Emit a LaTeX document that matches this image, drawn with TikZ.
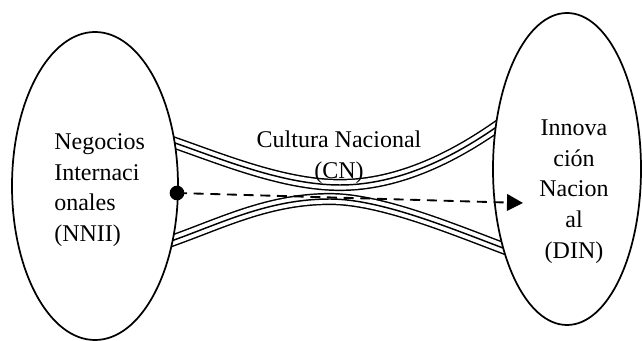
\documentclass[tikz,border=0pt]{standalone}
\usepackage{fontspec}
\setmainfont{Liberation Serif}
\usetikzlibrary{shapes.geometric,arrows.meta}
\tikzset{
  lbl/.style={inner sep=0pt, font=\fontsize{18}{22.9}\selectfont},
  oval/.style={ellipse, draw, fill=white, line width=1.3pt, inner sep=0pt},
  bandout/.style={line width=9.1pt, black},
  bandin/.style={line width=6.9pt, white},
  bandmid/.style={line width=1.1pt, black},
  flow/.style={dashed, dash pattern=on 7.5pt off 5pt, line width=1.4pt, -{Triangle[length=12pt,width=12.5pt]}},
  dotnode/.style={circle, fill=black, inner sep=0pt, minimum size=11pt}
}
\begin{document}
\begin{tikzpicture}[x=0.75pt,y=-0.75pt]
\useasboundingbox (0,0) rectangle (642,341);
% bands
\def\topband{(155,136) -- (175,143) .. controls (225,160.5) and (285,185) .. (340,185) .. controls (400,185) and (455,155.6) .. (495,128) -- (515,114.2)}
\def\botband{(154,247.2) -- (174,240) .. controls (224,222) and (270,199) .. (330,199) .. controls (380,199) and (450,228) .. (503,248) -- (523,255.5)}
\foreach \st in {bandout,bandin,bandmid}{
  \draw[\st] \topband;
  \draw[\st] \botband;
}
% ellipses
\node[oval, minimum width=124.5pt, minimum height=231pt] (L) at (95,186) {};
\node[oval, minimum width=111pt, minimum height=234pt] (R) at (567,169) {};
% labels
\node[lbl, anchor=west, align=left] (tl) at (54,190) {Negocios\\Internaci\\onales\\(NNII)};
\node[lbl, align=center] (tr) at (574,191.7) {Innova\\ción\\Nacion\\al\\(DIN)};
\node[lbl, align=center] (tc) at (339,157) {Cultura Nacional\\(CN)};
% arrow
\node[dotnode] (d) at (177,193) {};
\coordinate (e) at (523,203);
\draw[flow] (d.center) -- (e);
\end{tikzpicture}
\end{document}
